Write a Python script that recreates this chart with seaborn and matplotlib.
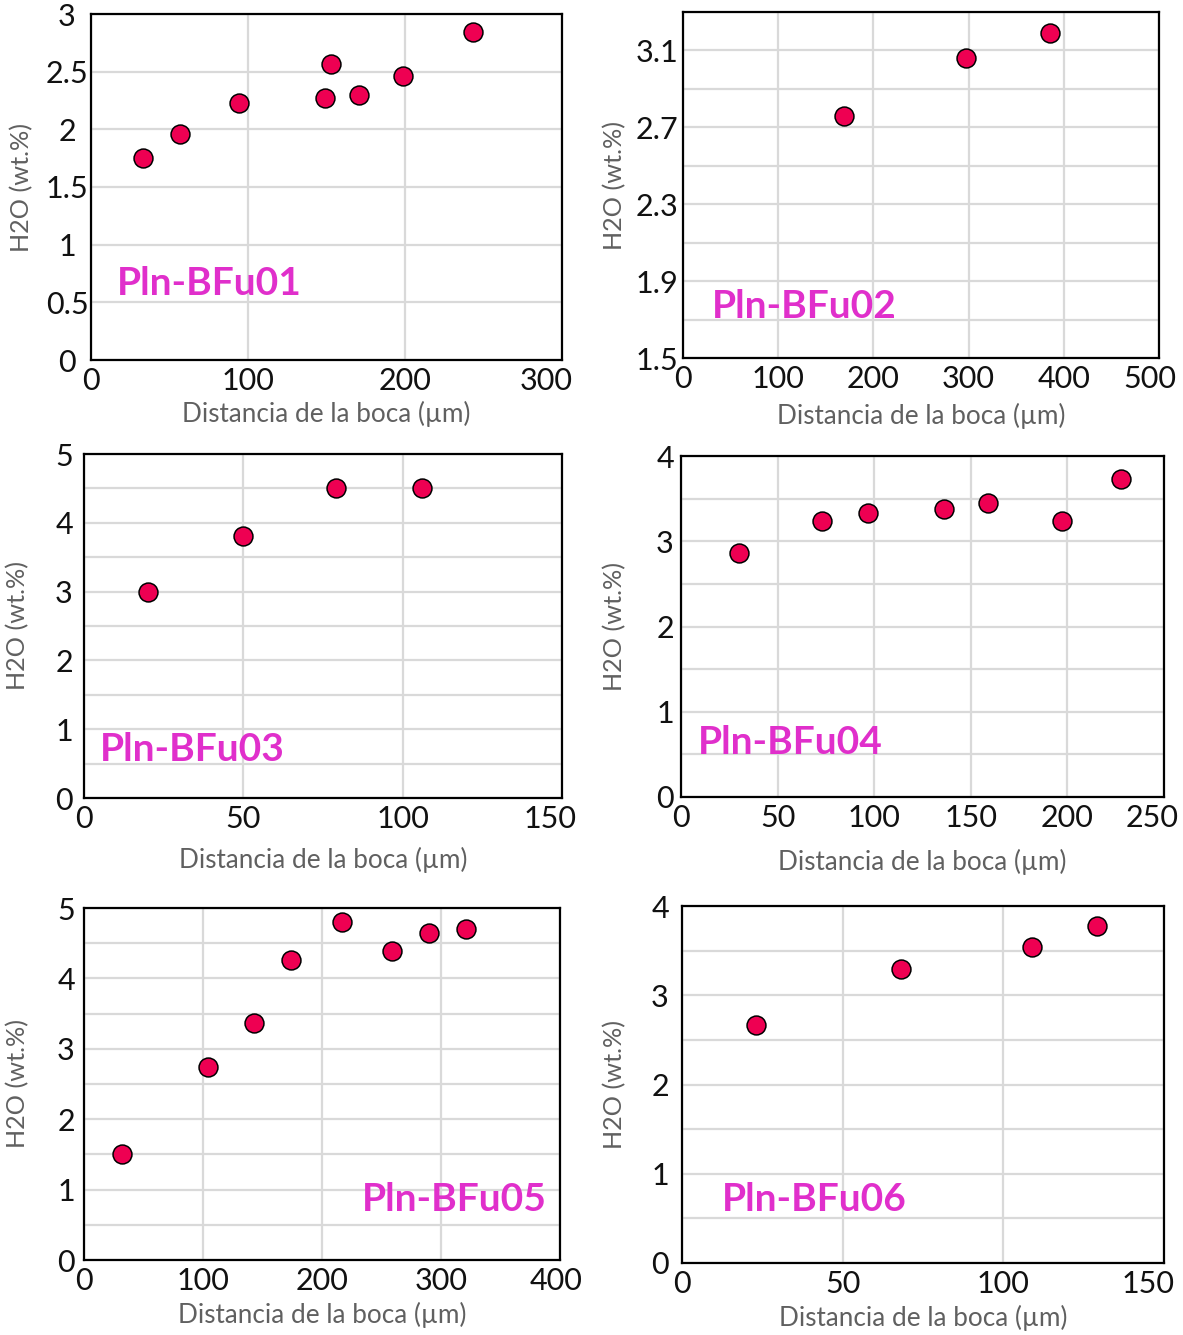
import matplotlib
matplotlib.use("Agg")
import matplotlib.pyplot as plt
import matplotlib.transforms as mtransforms
import seaborn as sns
import numpy as np
from matplotlib.ticker import FixedLocator

# ---------------- data ----------------
samples = ["Pln-BFu01", "Pln-BFu02", "Pln-BFu03", "Pln-BFu04", "Pln-BFu05", "Pln-BFu06"]

p1_x = [33, 57, 94, 149, 153, 171, 199, 243]
p1_y = [1.75, 1.96, 2.23, 2.27, 2.57, 2.30, 2.46, 2.84]
p2_x = [169, 297, 385]
p2_y = [2.76, 3.06, 3.19]
p3_x = [20, 50, 79, 106]
p3_y = [3.00, 3.81, 4.50, 4.50]
p4_x = [30, 73, 97, 136, 159, 197, 228]
p4_y = [2.86, 3.24, 3.33, 3.38, 3.45, 3.24, 3.73]
p5_x = [32, 104, 143, 174, 217, 259, 290, 321]
p5_y = [1.51, 2.74, 3.37, 4.26, 4.80, 4.39, 4.64, 4.70]
p6_x = [23, 68, 109, 129]
p6_y = [2.67, 3.29, 3.54, 3.78]

xs = [p1_x, p2_x, p3_x, p4_x, p5_x, p6_x]
ys = [p1_y, p2_y, p3_y, p4_y, p5_y, p6_y]

x_ticks = [[0, 100, 200, 300],
           [0, 100, 200, 300, 400, 500],
           [0, 50, 100, 150],
           [0, 50, 100, 150, 200, 250],
           [0, 100, 200, 300, 400],
           [0, 50, 100, 150]]
y_min = [0, 1.5, 0, 0, 0, 0]
y_max = [3, 3.3, 5, 4, 5, 4]
y_ticks = [[0, 0.5, 1, 1.5, 2, 2.5, 3],
           [1.5, 1.9, 2.3, 2.7, 3.1],
           [0, 1, 2, 3, 4, 5],
           [0, 1, 2, 3, 4],
           [0, 1, 2, 3, 4, 5],
           [0, 1, 2, 3, 4]]
y_tick_labels = [["0", "0.5", "1", "1.5", "2", "2.5", "3"],
                 ["1.5", "1.9", "2.3", "2.7", "3.1"],
                 ["0", "1", "2", "3", "4", "5"],
                 ["0", "1", "2", "3", "4"],
                 ["0", "1", "2", "3", "4", "5"],
                 ["0", "1", "2", "3", "4"]]
y_grid_step = [0.5, 0.2, 0.5, 0.5, 0.5, 0.5]

xlabel = "Distancia de la boca (\u00b5m)"
ylabel = "H2O (wt.%)"

# ---------------- layout (pixels) ----------------
W, H = 1183, 1335
boxes = [(91, 14, 562, 360), (683, 12, 1159, 358),
         (84, 454, 562, 798), (681, 456, 1164, 797),
         (84, 908, 560, 1260), (682, 906, 1164, 1263)]
ylab_x = [22, 615, 18, 615, 18, 615]
xlab_y = [414, 416, 860, 862, 1315, 1318]
ytick_off = [24, 26, 20, 16, 18, 22]
last_xlabel_shift = [-16, -9, -12, -12, -4, -16]
tag_pos = [(0.055, 0.22, "left"), (0.061, 0.15, "left"), (0.033, 0.142, "left"),
           (0.035, 0.161, "left"), (0.973, 0.173, "right"), (0.083, 0.179, "left")]

sns.set_style("white")
plt.rcParams['font.family'] = ['Lato', 'DejaVu Sans']

fig = plt.figure(figsize=(W / 100, H / 100), dpi=100)
fig.patch.set_facecolor("white")

marker_color = "#EE0052"
tag_color = "#E02FCB"
label_color = "#606060"
grid_color = "#d9d9d9"

for i in range(6):
    l, t, r, b = boxes[i]
    ax = fig.add_axes([l / W, 1 - b / H, (r - l) / W, (b - t) / H])
    sns.scatterplot(x=xs[i], y=ys[i], ax=ax, s=185, color=marker_color,
                    edgecolor="black", linewidth=1.1, zorder=3, legend=False)
    ax.set_xlim(0, x_ticks[i][-1])
    ax.set_ylim(y_min[i], y_max[i])
    ax.xaxis.set_major_locator(FixedLocator(x_ticks[i]))
    ax.yaxis.set_major_locator(FixedLocator(y_ticks[i]))
    ax.set_yticklabels(y_tick_labels[i])
    gy = np.arange(y_min[i], y_max[i] + 1e-9, y_grid_step[i])
    ax.yaxis.set_minor_locator(FixedLocator(list(gy)))
    ax.grid(True, axis="x", which="major", color=grid_color, lw=1.6)
    ax.grid(True, axis="y", which="both", color=grid_color, lw=1.6)
    ax.set_axisbelow(True)
    for sp in ax.spines.values():
        sp.set_visible(True)
        sp.set_color("black")
        sp.set_linewidth(1.6)
    ax.tick_params(axis="both", which="both", length=0, labelsize=22, colors="#111111")
    ax.tick_params(axis="x", pad=5)
    ax.tick_params(axis="y", pad=ytick_off[i] / 1.389)
    for lab in ax.get_yticklabels():
        lab.set_horizontalalignment("center")
    last = ax.get_xticklabels()[-1]
    last.set_transform(last.get_transform() +
                       mtransforms.ScaledTranslation(last_xlabel_shift[i] / 100, 0,
                                                     fig.dpi_scale_trans))

    ax.set_xlabel(xlabel, fontsize=18.8, color=label_color)
    ax.set_ylabel(ylabel, fontsize=18.2, color=label_color)
    ax.xaxis.set_label_coords(0.5, (b - xlab_y[i]) / (b - t))
    ax.xaxis.label.set_va("center")
    ax.yaxis.set_label_coords((ylab_x[i] - l) / (r - l), 0.5)
    ax.yaxis.label.set_va("center")

    tx, ty, ha = tag_pos[i]
    ax.text(tx, ty, samples[i], transform=ax.transAxes, ha=ha, va="center",
            fontsize=28, fontweight="bold", color=tag_color)

fig.savefig("out.png", dpi=100, facecolor="white")
